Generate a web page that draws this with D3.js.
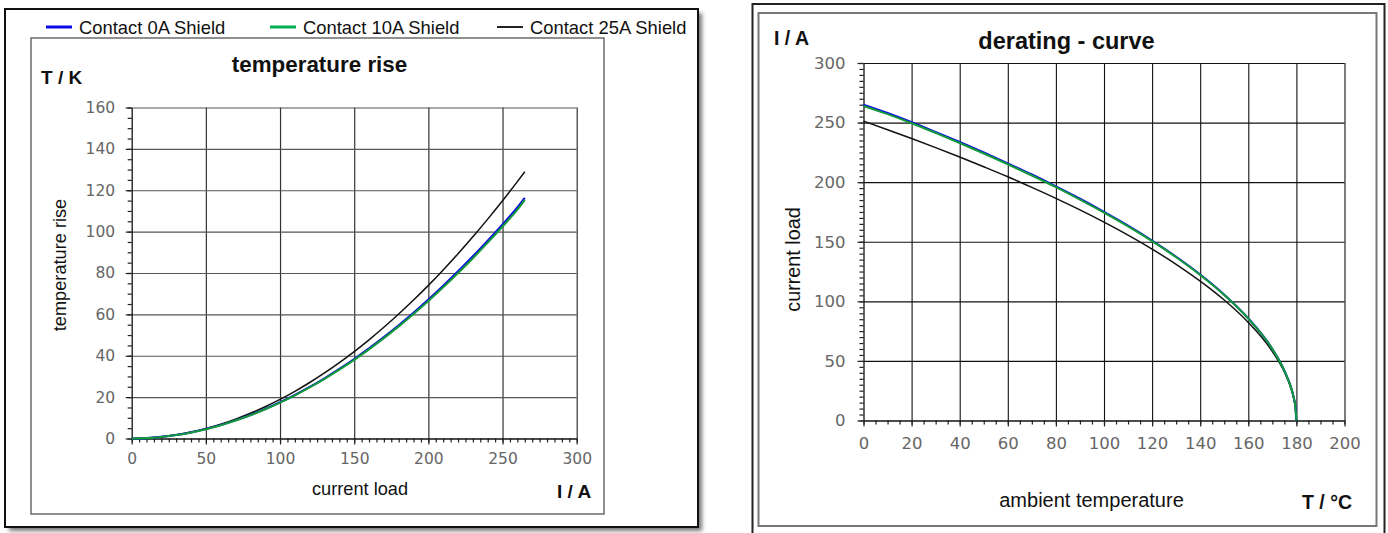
<!DOCTYPE html>
<html>
<head>
<meta charset="utf-8">
<script src="https://cdn.jsdelivr.net/npm/d3@7"></script>
<style>
  html, body { margin: 0; padding: 0; background: #fff; }
  svg { display: block; }
  .lbl { font-family: "Liberation Sans", Arial, sans-serif; fill: #111; }
  .tick text { font-family: "DejaVu Sans", sans-serif; fill: #666; }
</style>
</head>
<body>
<svg id="chart" width="1388" height="533"></svg>
<script>
// ---- series names and colours ----
const seriesNames = ["Contact 0A Shield", "Contact 10A Shield", "Contact 25A Shield"];
const seriesColors = ["#0a0ae6", "#139a3a", "#111111"];
const legendColors = ["#0a0ae6", "#00b050", "#222222"];

// ---- temperature rise: current load (A) vs temperature rise (K) ----
const riseCurrent = [0, 10, 20, 30, 40, 50, 60, 70, 80, 90, 100, 110, 120, 130, 140, 150, 160, 170, 180, 190, 200, 210, 220, 230, 240, 250, 260, 265];
const rise0A  = [0, 0.20, 0.77, 1.69, 2.96, 4.56, 6.50, 8.76, 11.35, 14.26, 17.5, 21.05, 24.93, 29.11, 33.62, 38.43, 43.55, 48.99, 54.73, 60.79, 67.15, 73.81, 80.79, 88.06, 95.65, 103.5, 111.7, 116.3];
const rise10A = [0, 0.20, 0.76, 1.67, 2.93, 4.51, 6.43, 8.67, 11.24, 14.12, 17.33, 20.84, 24.68, 28.82, 33.28, 38.05, 43.11, 48.50, 54.18, 60.18, 66.48, 73.07, 79.98, 87.18, 94.69, 102.5, 110.6, 115.4];
const rise25A = [0, 0.20, 0.79, 1.76, 3.11, 4.83, 6.91, 9.36, 12.18, 15.36, 18.9, 22.80, 27.07, 31.69, 36.67, 42.01, 47.71, 53.76, 60.17, 66.93, 74.03, 81.50, 89.34, 97.51, 106.05, 114.92, 124.15, 128.92];
const riseXTicks = [0, 50, 100, 150, 200, 250, 300];
const riseYTicks = [0, 20, 40, 60, 80, 100, 120, 140, 160];

// ---- derating curve: ambient temperature (°C) vs current load (A) ----
const ambientTemp = [0, 10, 20, 30, 40, 50, 60, 70, 80, 90, 100, 110, 120, 130, 140, 150, 160, 170, 175, 178, 179, 179.5, 180];
const derate0A  = [265.0, 258.0, 250.3, 242.1, 233.7, 224.9, 215.8, 206.4, 196.5, 186.1, 175.1, 163.5, 151.0, 137.4, 122.5, 105.6, 85.7, 60.0, 41.9, 26.2, 18.3, 12.8, 0];
const derate10A = [264.0, 257.1, 249.5, 241.3, 232.9, 224.1, 215.0, 205.6, 195.8, 185.4, 174.5, 162.9, 150.5, 137.0, 122.1, 105.3, 85.5, 59.9, 41.8, 26.1, 18.3, 12.8, 0];
const derate25A = [251.2, 244.0, 236.6, 229.0, 221.1, 212.9, 204.5, 195.6, 186.4, 176.7, 166.4, 155.5, 143.8, 131.1, 117.0, 101.1, 82.3, 57.9, 40.7, 25.6, 18.0, 12.7, 0];
const derateXTicks = [0, 20, 40, 60, 80, 100, 120, 140, 160, 180, 200];
const derateYTicks = [0, 50, 100, 150, 200, 250, 300];

const svg = d3.select("#chart");
const defs = svg.append("defs");
const blur = defs.append("filter").attr("id", "shadowBlur")
  .attr("x", "-5%").attr("y", "-5%").attr("width", "115%").attr("height", "115%");
blur.append("feGaussianBlur").attr("stdDeviation", 2.2);

// ---------- panel frames ----------
// left panel with drop shadow
svg.append("rect").attr("x", 9).attr("y", 13).attr("width", 693).attr("height", 518)
  .attr("fill", "#777").attr("filter", "url(#shadowBlur)");
svg.append("rect").attr("x", 5).attr("y", 9).attr("width", 693).attr("height", 518)
  .attr("fill", "#fff").attr("stroke", "#111").attr("stroke-width", 2);
svg.append("rect").attr("x", 31).attr("y", 38).attr("width", 573).attr("height", 476)
  .attr("fill", "none").attr("stroke", "#555").attr("stroke-width", 1.3);

// right panel
svg.append("rect").attr("x", 752.5).attr("y", 4).attr("width", 632).attr("height", 534)
  .attr("fill", "#fff").attr("stroke", "#222").attr("stroke-width", 2);
svg.append("rect").attr("x", 758.5).attr("y", 13).attr("width", 618).attr("height", 513)
  .attr("fill", "none").attr("stroke", "#777").attr("stroke-width", 2);

// ---------- generic panel drawing ----------
function drawPanel(cfg) {
  const x = d3.scaleLinear().domain(cfg.xDomain).range([cfg.left, cfg.right]);
  const y = d3.scaleLinear().domain(cfg.yDomain).range([cfg.bottom, cfg.top]);
  const g = svg.append("g");
  const w = cfg.right - cfg.left, h = cfg.bottom - cfg.top;

  // grid lines
  g.append("g").attr("transform", `translate(0,${cfg.bottom})`)
    .call(d3.axisBottom(x).tickValues(cfg.xTicks.slice(1)).tickSize(-h).tickFormat(""))
    .call(s => s.select(".domain").remove())
    .call(s => s.selectAll("line").attr("stroke", cfg.vGrid).attr("stroke-width", cfg.gridW));
  g.append("g").attr("transform", `translate(${cfg.left},0)`)
    .call(d3.axisLeft(y).tickValues(cfg.yTicks.slice(1)).tickSize(-w).tickFormat(""))
    .call(s => s.select(".domain").remove())
    .call(s => s.selectAll("line").attr("stroke", cfg.hGrid).attr("stroke-width", cfg.gridW));

  // minor ticks
  g.append("g").attr("transform", `translate(0,${cfg.bottom})`)
    .call(d3.axisBottom(x).tickValues(d3.range(cfg.xDomain[0], cfg.xDomain[1] + 0.01, cfg.xMinor)).tickSize(4).tickFormat(""))
    .call(s => s.select(".domain").remove())
    .call(s => s.selectAll("line").attr("stroke", "#222").attr("stroke-width", 1.2));
  g.append("g").attr("transform", `translate(${cfg.left},0)`)
    .call(d3.axisLeft(y).tickValues(d3.range(cfg.yDomain[0], cfg.yDomain[1] + 0.01, cfg.yMinor)).tickSize(4).tickFormat(""))
    .call(s => s.select(".domain").remove())
    .call(s => s.selectAll("line").attr("stroke", "#222").attr("stroke-width", 1.2));

  // major axes with labels
  g.append("g").attr("transform", `translate(0,${cfg.bottom})`)
    .call(d3.axisBottom(x).tickValues(cfg.xTicks).tickSize(6).tickPadding(cfg.xPad).tickSizeOuter(0))
    .call(s => s.select(".domain").attr("stroke", "#111").attr("stroke-width", 1.3))
    .call(s => s.selectAll("line").attr("stroke", "#222").attr("stroke-width", 1.2))
    .call(s => s.selectAll("text").style("font-size", cfg.tickFont + "px"));
  g.append("g").attr("transform", `translate(${cfg.left},0)`)
    .call(d3.axisLeft(y).tickValues(cfg.yTicks).tickSize(6).tickPadding(cfg.yPad).tickSizeOuter(0))
    .call(s => s.select(".domain").attr("stroke", "#111").attr("stroke-width", 1.3))
    .call(s => s.selectAll("line").attr("stroke", "#222").attr("stroke-width", 1.2))
    .call(s => s.selectAll("text").style("font-size", cfg.tickFont + "px"));

  // curves (25A first so the 0A / 10A pair sits on top)
  const order = [2, 0, 1];
  order.forEach(i => {
    const pts = cfg.xs.map((v, k) => [v, cfg.series[i][k]]);
    const line = d3.line().x(d => x(d[0])).y(d => y(d[1])).curve(d3.curveMonotoneX);
    g.append("path").datum(pts)
      .attr("d", line)
      .attr("fill", "none")
      .attr("stroke", seriesColors[i])
      .attr("stroke-width", i === 2 ? 1.5 : 2.1)
      .attr("stroke-linejoin", "round");
  });
  return g;
}

// temperature rise panel
drawPanel({
  xDomain: [0, 300], yDomain: [0, 160],
  left: 131.7, right: 576.7, top: 107.5, bottom: 438.5,
  xTicks: riseXTicks, yTicks: riseYTicks, xMinor: 5, yMinor: 5,
  vGrid: "#333", hGrid: "#555", gridW: 1.2,
  tickFont: 15.5, xPad: 8.5, yPad: 10.5,
  xs: riseCurrent, series: [rise0A, rise10A, rise25A]
});

// derating panel
drawPanel({
  xDomain: [0, 200], yDomain: [0, 300],
  left: 863.5, right: 1344.5, top: 63, bottom: 420.5,
  xTicks: derateXTicks, yTicks: derateYTicks, xMinor: 5, yMinor: 5,
  vGrid: "#111", hGrid: "#111", gridW: 1.1,
  tickFont: 16.5, xPad: 11, yPad: 12,
  xs: ambientTemp, series: [derate0A, derate10A, derate25A]
});

// ---------- text ----------
function text(x, y, str, size, opts = {}) {
  const t = svg.append("text").attr("class", "lbl")
    .attr("x", x).attr("y", y).text(str)
    .style("font-size", size + "px")
    .style("font-weight", opts.bold ? "bold" : "normal")
    .attr("text-anchor", opts.anchor || "start");
  if (opts.rotate) t.attr("transform", `rotate(-90,${x},${y})`);
  return t;
}

// legend
const legendX = [46, 270, 497];
seriesNames.forEach((name, i) => {
  svg.append("line")
    .attr("x1", legendX[i]).attr("x2", legendX[i] + 26)
    .attr("y1", 27).attr("y2", 27)
    .attr("stroke", legendColors[i]).attr("stroke-width", i === 2 ? 2 : 3);
  text(legendX[i] + 33, 33.5, name, 18.4);
});

// temperature rise labels
text(319.5, 72, "temperature rise", 22.4, { bold: true, anchor: "middle" });
text(41, 84, "T / K", 19, { bold: true });
text(66, 265, "temperature rise", 18.2, { anchor: "middle", rotate: true });
text(360, 495, "current load", 18.2, { anchor: "middle" });
text(557, 498, "I / A", 19, { bold: true });

// derating labels
text(1066.5, 49, "derating - curve", 23.5, { bold: true, anchor: "middle" });
text(774, 45, "I / A", 19.5, { bold: true });
text(800, 259.5, "current load", 19.8, { anchor: "middle", rotate: true });
text(1091.5, 507, "ambient temperature", 20, { anchor: "middle" });
text(1302, 509, "T / °C", 19.5, { bold: true });
</script>
</body>
</html>
